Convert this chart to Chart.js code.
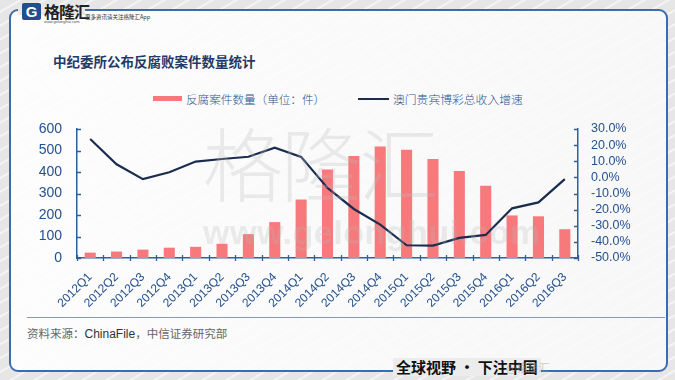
<!DOCTYPE html>
<html>
<head>
<meta charset="utf-8">
<script src="https://cdn.jsdelivr.net/npm/chart.js@4/dist/chart.umd.min.js"></script>
<style>
  html, body { margin:0; padding:0; }
  body { width:675px; height:380px; overflow:hidden; position:relative;
    background-color:#e6e6e6;
    background-image: repeating-linear-gradient(150deg, rgba(255,255,255,0) 0px, rgba(255,255,255,0) 9px, rgba(255,255,255,0.75) 10px, rgba(255,255,255,0) 12px);
    font-family: "Noto Sans CJK SC", "Liberation Sans", sans-serif; }
  #panel { position:absolute; left:9px; top:9px; width:655px; height:359px;
    border:2.5px solid #3a6db0; border-radius:9px;
    background: linear-gradient(100deg, rgba(255,255,255,0.9), rgba(250,250,250,0.85)); }
  #logoCover { position:absolute; left:18px; top:5px; width:67px; height:10px; background:#e9e9e9; }
  #logoIcon { position:absolute; left:22px; top:3px; width:19px; height:17px; background:#1f4f8f; border-radius:2px;
    color:#fff; font: bold 15px "Liberation Sans", sans-serif; line-height:17px; text-align:center; }
  #logoText { position:absolute; left:44px; top:1px; font: bold 16px "Noto Sans CJK SC"; color:#222; line-height:20px; letter-spacing:-1px; }
  #logoUrl { position:absolute; left:44px; top:19px; font: 4px "Liberation Sans"; color:#555; }
  #logoSub { position:absolute; left:85px; top:13px; font: 5.5px "Noto Sans CJK SC"; color:#333; }
  #title { position:absolute; left:53px; top:51px; font: bold 13.5px "Noto Sans CJK SC"; color:#1f3a68; line-height:20px; }
  #legBox { position:absolute; left:153px; top:96px; width:29px; height:5px; background:#f7797c; }
  #legText1 { position:absolute; left:186px; top:90px; font: 300 11.6px "Noto Sans CJK SC"; color:#2a548f; line-height:18px; }
  #legLine { position:absolute; left:358px; top:97.5px; width:31px; height:2.5px; background:#1b2d4f; }
  #legText2 { position:absolute; left:393px; top:90px; font: 300 11.8px "Noto Sans CJK SC"; color:#2a548f; line-height:18px; }
  #wm1 { position:absolute; left:203px; top:100px; font: 200 80px "Noto Sans CJK SC"; color:rgba(185,185,185,0.28); line-height:120px; z-index:3; letter-spacing:-2px; }
  #wm2 { position:absolute; left:203px; top:212px; font: bold 34px "Liberation Sans"; color:rgba(185,185,185,0.25); line-height:40px; z-index:3; letter-spacing:0.5px; }
  #sep { position:absolute; left:27px; top:317px; width:638px; height:1px; background:#8a9ab0; }
  #source { position:absolute; left:27px; top:324px; font: 11.5px "Noto Sans CJK SC"; color:#666; line-height:18px; }
  #source b { font: 12px "Liberation Sans"; color:#333; }
  #slogan { position:absolute; left:393px; top:358px; font: bold 15px "Noto Sans CJK SC"; color:#111; background:#ececec; padding:0 3px; line-height:18px; }
  #slogan2 { position:absolute; left:506px; top:359px; font: 11px "Noto Sans CJK SC"; color:rgba(150,150,150,0.5); line-height:16px; }
  canvas { position:absolute; left:0; top:0; z-index:2; }
</style>
</head>
<body>
<div id="panel"></div>
<div id="logoCover"></div>
<div id="logoIcon">G</div>
<div id="logoText">格隆汇</div>
<div id="logoUrl">www.gelonghui.com</div>
<div id="logoSub">更多资讯请关注格隆汇App</div>
<div id="title">中纪委所公布反腐败案件数量统计</div>
<div id="legBox"></div>
<div id="legText1">反腐案件数量（单位：件）</div>
<div id="legLine"></div>
<div id="legText2">澳门贵宾博彩总收入增速</div>
<div id="wm1">格隆汇</div>
<div id="wm2">www.gelonghui.com</div>
<div id="sep"></div>
<div id="source">资料来源：<b>ChinaFile</b>，中信证券研究部</div>
<div id="slogan">全球视野 · 下注中国</div>
<div id="slogan2">@格隆汇</div>
<canvas id="c" width="675" height="380"></canvas>
<script>
const categories = ['2012Q1','2012Q2','2012Q3','2012Q4','2013Q1','2013Q2','2013Q3','2013Q4',
  '2014Q1','2014Q2','2014Q3','2014Q4','2015Q1','2015Q2','2015Q3','2015Q4','2016Q1','2016Q2','2016Q3'];
const caseCounts = [25, 30, 39, 48, 52, 66, 111, 167, 272, 412, 475, 519, 503, 461, 405, 336, 198, 194, 134];
const macauGrowth = [23.8, 8.1, -1.1, 3.2, 9.8, 11.4, 12.8, 18.4, 12.7, -6.5, -19.6, -29.3, -42.1, -42.3, -37.5, -35.7, -19.2, -15.5, -1.1];
const leftTickRange = { min: 0, max: 600, step: 100 };
const rightTickRange = { min: -50, max: 30, step: 10 };

const axisColor = '#2f5f9f';
const tickColor = '#24518e';

const innerTicks = {
  id: 'innerTicks',
  afterDraw(chart) {
    const ctx = chart.ctx, a = chart.chartArea;
    ctx.save();
    ctx.strokeStyle = axisColor;
    ctx.lineWidth = 1.3;
    const y = chart.scales.y, y1 = chart.scales.y1, x = chart.scales.x;
    ctx.beginPath();
    y.ticks.forEach(t => { const p = Math.round(y.getPixelForValue(t.value)) + 0.5; ctx.moveTo(a.left, p); ctx.lineTo(a.left + 4, p); });
    y1.ticks.forEach(t => { const p = Math.round(y1.getPixelForValue(t.value)) + 0.5; ctx.moveTo(a.right, p); ctx.lineTo(a.right - 4, p); });
    for (let i = 0; i <= categories.length; i++) {
      const p = Math.round(x.getPixelForValue(i - 0.5)) + 0.5;
      ctx.moveTo(p, a.bottom - 3); ctx.lineTo(p, a.bottom + 3);
    }
    ctx.stroke();
    ctx.restore();
  }
};

new Chart(document.getElementById('c'), {
  data: {
    labels: categories,
    datasets: [
      { type: 'line', label: '澳门贵宾博彩总收入增速', data: macauGrowth, yAxisID: 'y1',
        borderColor: '#1b2d4f', borderWidth: 2.2, pointRadius: 0, tension: 0, order: 0, fill: false },
      { type: 'bar', label: '反腐案件数量（单位：件）', data: caseCounts, yAxisID: 'y',
        backgroundColor: '#f7797c', barPercentage: 0.42, categoryPercentage: 1.0, order: 1 }
    ]
  },
  options: {
    responsive: false, animation: false, devicePixelRatio: 1,
    layout: { padding: { top: 129, left: 0, right: 0, bottom: 0 } },
    plugins: { legend: { display: false }, tooltip: { enabled: false }, title: { display: false } },
    scales: {
      x: {
        offset: true,
        grid: { display: false, offset: true },
        border: { display: true, color: axisColor, width: 1.5 },
        ticks: { color: tickColor, font: { family: '"Liberation Sans", Arial', size: 12 },
                 maxRotation: 45, minRotation: 45, autoSkip: false, padding: 4 },
        afterFit(s) { s.height = 122; }
      },
      y: {
        position: 'left', min: leftTickRange.min, max: leftTickRange.max,
        grid: { display: false },
        border: { display: true, color: axisColor, width: 1.5 },
        ticks: { stepSize: leftTickRange.step, color: tickColor, padding: 7, autoSkip: false,
                 font: { family: '"Liberation Sans", Arial', size: 14 } },
        afterFit(s) { s.width = 77; }
      },
      y1: {
        position: 'right', min: rightTickRange.min, max: rightTickRange.max,
        grid: { display: false },
        border: { display: true, color: axisColor, width: 1.5 },
        ticks: { stepSize: rightTickRange.step, color: tickColor, padding: 5, autoSkip: false,
                 font: { family: '"Liberation Sans", Arial', size: 12.5 },
                 callback: v => v.toFixed(1) + '%' },
        afterFit(s) { s.width = 97; }
      }
    }
  },
  plugins: [innerTicks]
});
</script>
</body>
</html>
